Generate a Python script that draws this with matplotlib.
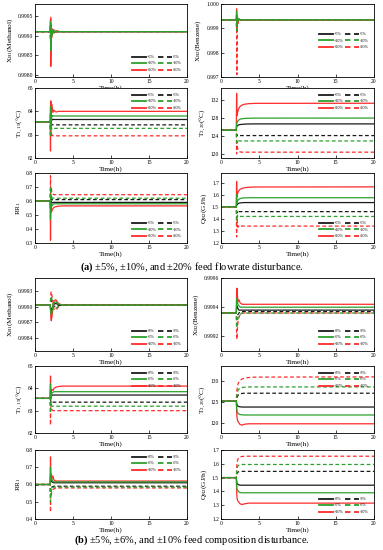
import matplotlib
matplotlib.use("Agg")
from matplotlib import pyplot as plt

plt.rcParams['font.family'] = ['Liberation Serif', 'DejaVu Serif']
plt.rcParams['mathtext.fontset'] = 'custom'
plt.rcParams['mathtext.rm'] = 'Liberation Serif'
plt.rcParams['mathtext.it'] = 'Liberation Serif:italic'
plt.rcParams['mathtext.bf'] = 'Liberation Serif:bold'

# time grid (h) shared by every series
T = [0, 2.0, 2.04, 2.08, 2.14, 2.22, 2.35, 2.5, 2.75, 3.1, 3.6, 4.5, 20]

LABELS_A = ["+5%", "-5%", "+10%", "-10%", "+20%", "-20%"]
LABELS_B = ["+3%", "-3%", "+6%", "-6%", "+10%", "-10%"]

# ---- (a) feed flowrate disturbance ----
A_XB1 = [
    [0.9991, 0.9991, 0.99925, 0.99895, 0.99915, 0.99905, 0.99912, 0.99909, 0.9991, 0.9991, 0.9991, 0.9991, 0.9991],
    [0.9991, 0.9991, 0.99898, 0.9992, 0.99905, 0.99913, 0.99908, 0.99911, 0.9991, 0.9991, 0.9991, 0.9991, 0.9991],
    [0.9991, 0.9991, 0.99935, 0.99862, 0.9992, 0.99898, 0.99913, 0.99907, 0.99911, 0.9991, 0.9991, 0.9991, 0.9991],
    [0.9991, 0.9991, 0.9989, 0.9993, 0.999, 0.99915, 0.99906, 0.99912, 0.9991, 0.9991, 0.9991, 0.9991, 0.9991],
    [0.9991, 0.9991, 0.9994, 0.99822, 0.99925, 0.99895, 0.99915, 0.99906, 0.99912, 0.9991, 0.9991, 0.9991, 0.9991],
    [0.9991, 0.9991, 0.99885, 0.99948, 0.99895, 0.9992, 0.99905, 0.99915, 0.99908, 0.99912, 0.99909, 0.9991, 0.9991],
]
A_XB2 = [
    [0.99935, 0.99935, 0.99955, 0.9992, 0.9994, 0.99933, 0.99936, 0.99935, 0.99935, 0.99935, 0.99935, 0.99935, 0.99935],
    [0.99935, 0.99935, 0.9991, 0.99945, 0.9993, 0.99937, 0.99934, 0.99935, 0.99935, 0.99935, 0.99935, 0.99935, 0.99935],
    [0.99935, 0.99935, 0.9997, 0.9991, 0.99945, 0.9993, 0.99937, 0.99935, 0.99935, 0.99935, 0.99935, 0.99935, 0.99935],
    [0.99935, 0.99935, 0.9989, 0.99955, 0.99925, 0.9994, 0.99933, 0.99935, 0.99935, 0.99935, 0.99935, 0.99935, 0.99935],
    [0.99935, 0.99935, 0.9998, 0.999, 0.9995, 0.99928, 0.99938, 0.99934, 0.99935, 0.99935, 0.99935, 0.99935, 0.99935],
    [0.99935, 0.99935, 0.999, 0.9971, 0.9993, 0.9992, 0.9994, 0.99936, 0.99935, 0.99935, 0.99935, 0.99935, 0.99935],
]
A_T115 = [
    [63.55, 63.55, 63.9, 63.4, 63.7, 63.62, 63.66, 63.65, 63.65, 63.65, 63.65, 63.65, 63.65],
    [63.55, 63.55, 63.2, 63.6, 63.38, 63.44, 63.42, 63.42, 63.42, 63.42, 63.42, 63.42, 63.42],
    [63.55, 63.55, 64.2, 63.2, 63.9, 63.75, 63.82, 63.8, 63.8, 63.8, 63.8, 63.8, 63.8],
    [63.55, 63.55, 62.9, 63.5, 63.2, 63.3, 63.27, 63.27, 63.27, 63.27, 63.27, 63.27, 63.27],
    [63.55, 63.55, 62.3, 64.45, 63.9, 64.3, 63.95, 64.05, 63.97, 64.0, 64.0, 64.0, 64.0],
    [63.55, 63.55, 63.0, 63.4, 62.9, 63.0, 62.95, 62.95, 62.95, 62.95, 62.95, 62.95, 62.95],
]
A_T220 = [
    [125.3, 125.3, 126.0, 126.2, 126.3, 126.4, 126.5, 126.55, 126.6, 126.65, 126.68, 126.7, 126.7],
    [125.3, 125.3, 124.4, 124.0, 124.2, 124.1, 124.1, 124.1, 124.1, 124.1, 124.1, 124.1, 124.1],
    [125.3, 125.3, 126.5, 126.9, 127.2, 127.4, 127.6, 127.75, 127.85, 127.92, 127.96, 127.99, 128.0],
    [125.3, 125.3, 123.5, 122.5, 123.0, 122.85, 122.92, 122.9, 122.9, 122.9, 122.9, 122.9, 122.9],
    [125.3, 125.3, 133.5, 128.5, 129.0, 129.6, 130.2, 130.6, 130.9, 131.1, 131.2, 131.28, 131.3],
    [125.3, 125.3, 120.0, 122.8, 121.6, 121.0, 120.6, 120.45, 120.4, 120.4, 120.4, 120.4, 120.4],
]
A_RR1 = [
    [0.6, 0.6, 0.55, 0.6, 0.575, 0.585, 0.59, 0.59, 0.59, 0.59, 0.59, 0.59, 0.59],
    [0.6, 0.6, 0.65, 0.6, 0.62, 0.608, 0.61, 0.61, 0.61, 0.61, 0.61, 0.61, 0.61],
    [0.6, 0.6, 0.47, 0.59, 0.55, 0.565, 0.575, 0.58, 0.58, 0.58, 0.58, 0.58, 0.58],
    [0.6, 0.6, 0.7, 0.6, 0.64, 0.625, 0.62, 0.62, 0.62, 0.62, 0.62, 0.62, 0.62],
    [0.6, 0.6, 0.32, 0.58, 0.52, 0.53, 0.545, 0.555, 0.56, 0.563, 0.565, 0.565, 0.565],
    [0.6, 0.6, 0.78, 0.62, 0.7, 0.66, 0.65, 0.645, 0.645, 0.645, 0.645, 0.645, 0.645],
]
A_QR2 = [
    [1.5, 1.5, 1.52, 1.515, 1.52, 1.525, 1.53, 1.532, 1.534, 1.535, 1.535, 1.535, 1.535],
    [1.5, 1.5, 1.47, 1.45, 1.465, 1.458, 1.46, 1.46, 1.46, 1.46, 1.46, 1.46, 1.46],
    [1.5, 1.5, 1.6, 1.53, 1.545, 1.555, 1.563, 1.568, 1.572, 1.574, 1.575, 1.575, 1.575],
    [1.5, 1.5, 1.42, 1.39, 1.43, 1.415, 1.42, 1.42, 1.42, 1.42, 1.42, 1.42, 1.42],
    [1.5, 1.5, 1.71, 1.58, 1.6, 1.62, 1.635, 1.645, 1.653, 1.658, 1.662, 1.664, 1.665],
    [1.5, 1.5, 1.25, 1.42, 1.36, 1.33, 1.345, 1.34, 1.34, 1.34, 1.34, 1.34, 1.34],
]

# ---- (b) feed composition disturbance ----
B_XB1 = [
    [0.99903, 0.99903, 0.99898, 0.99895, 0.99893, 0.99896, 0.99901, 0.99905, 0.99906, 0.99904, 0.99903, 0.99903, 0.99903],
    [0.99903, 0.99903, 0.99908, 0.99911, 0.99913, 0.9991, 0.99905, 0.99901, 0.999, 0.99902, 0.99903, 0.99903, 0.99903],
    [0.99903, 0.99903, 0.99895, 0.99888, 0.99885, 0.9989, 0.999, 0.99908, 0.99909, 0.99905, 0.99903, 0.99903, 0.99903],
    [0.99903, 0.99903, 0.9991, 0.99918, 0.9992, 0.99915, 0.99906, 0.99898, 0.99897, 0.99901, 0.99903, 0.99903, 0.99903],
    [0.99903, 0.99903, 0.99895, 0.9988, 0.99873, 0.9988, 0.99895, 0.99912, 0.99913, 0.99906, 0.99903, 0.99903, 0.99903],
    [0.99903, 0.99903, 0.99912, 0.99925, 0.99929, 0.99922, 0.9991, 0.99895, 0.99893, 0.999, 0.99903, 0.99903, 0.99903],
]
B_XB2 = [
    [0.99936, 0.99936, 0.9994, 0.99941, 0.9994, 0.99939, 0.99938, 0.99938, 0.99938, 0.99938, 0.99938, 0.99938, 0.99938],
    [0.99936, 0.99936, 0.99933, 0.99932, 0.99934, 0.99935, 0.99936, 0.99937, 0.99937, 0.99937, 0.99937, 0.99937, 0.99937],
    [0.99936, 0.99936, 0.99944, 0.99946, 0.99944, 0.99942, 0.99941, 0.9994, 0.9994, 0.9994, 0.9994, 0.9994, 0.9994],
    [0.99936, 0.99936, 0.99928, 0.99926, 0.9993, 0.99933, 0.99934, 0.99935, 0.99936, 0.99936, 0.99936, 0.99936, 0.99936],
    [0.99936, 0.99936, 0.9995, 0.99953, 0.99948, 0.99944, 0.99945, 0.99943, 0.99942, 0.99942, 0.99942, 0.99942, 0.99942],
    [0.99936, 0.99936, 0.99922, 0.99918, 0.99925, 0.9993, 0.99933, 0.99935, 0.99936, 0.99936, 0.99936, 0.99936, 0.99936],
]
B_T115 = [
    [63.55, 63.55, 63.9, 63.6, 63.65, 63.68, 63.7, 63.7, 63.7, 63.7, 63.7, 63.7, 63.7],
    [63.55, 63.55, 63.2, 63.45, 63.4, 63.38, 63.38, 63.38, 63.38, 63.38, 63.38, 63.38, 63.38],
    [63.55, 63.55, 64.2, 63.5, 63.7, 63.78, 63.82, 63.85, 63.85, 63.85, 63.85, 63.85, 63.85],
    [63.55, 63.55, 62.9, 63.4, 63.25, 63.2, 63.2, 63.2, 63.2, 63.2, 63.2, 63.2, 63.2],
    [63.55, 63.55, 64.55, 63.6, 63.9, 63.95, 63.9, 64.0, 64.05, 64.08, 64.1, 64.1, 64.1],
    [63.55, 63.55, 62.35, 63.3, 63.1, 63.05, 63.0, 63.0, 63.0, 63.0, 63.0, 63.0, 63.0],
]
B_T220 = [
    [125.2, 125.2, 124.8, 124.4, 124.2, 124.0, 123.9, 123.85, 123.8, 123.8, 123.8, 123.8, 123.8],
    [125.2, 125.2, 125.7, 126.0, 126.3, 126.6, 126.8, 126.95, 127.05, 127.1, 127.1, 127.1, 127.1],
    [125.2, 125.2, 124.0, 123.0, 122.6, 122.3, 122.1, 122.0, 121.95, 121.9, 121.9, 121.9, 121.9],
    [125.2, 125.2, 126.2, 126.8, 127.3, 127.8, 128.1, 128.3, 128.45, 128.55, 128.6, 128.6, 128.6],
    [125.2, 125.2, 123.0, 121.5, 120.8, 120.3, 120.0, 119.6, 119.5, 119.7, 119.8, 119.8, 119.8],
    [125.2, 125.2, 126.8, 127.8, 128.6, 129.3, 129.8, 130.2, 130.5, 130.7, 130.85, 130.95, 131.0],
]
B_RR1 = [
    [0.6, 0.6, 0.65, 0.62, 0.63, 0.615, 0.612, 0.61, 0.61, 0.61, 0.61, 0.61, 0.61],
    [0.6, 0.6, 0.55, 0.58, 0.575, 0.585, 0.588, 0.59, 0.59, 0.59, 0.59, 0.59, 0.59],
    [0.6, 0.6, 0.7, 0.63, 0.65, 0.625, 0.618, 0.615, 0.615, 0.615, 0.615, 0.615, 0.615],
    [0.6, 0.6, 0.5, 0.57, 0.56, 0.575, 0.582, 0.585, 0.585, 0.585, 0.585, 0.585, 0.585],
    [0.6, 0.6, 0.76, 0.64, 0.66, 0.63, 0.65, 0.625, 0.62, 0.62, 0.62, 0.62, 0.62],
    [0.6, 0.6, 0.44, 0.55, 0.54, 0.56, 0.57, 0.575, 0.58, 0.58, 0.58, 0.58, 0.58],
]
B_QR2 = [
    [1.5, 1.5, 1.48, 1.46, 1.455, 1.45, 1.447, 1.445, 1.445, 1.445, 1.445, 1.445, 1.445],
    [1.5, 1.5, 1.52, 1.53, 1.535, 1.54, 1.543, 1.545, 1.545, 1.545, 1.545, 1.545, 1.545],
    [1.5, 1.5, 1.45, 1.42, 1.41, 1.405, 1.395, 1.392, 1.39, 1.39, 1.39, 1.39, 1.39],
    [1.5, 1.5, 1.53, 1.56, 1.575, 1.585, 1.59, 1.593, 1.595, 1.595, 1.595, 1.595, 1.595],
    [1.5, 1.5, 1.42, 1.36, 1.34, 1.33, 1.32, 1.31, 1.305, 1.31, 1.315, 1.315, 1.315],
    [1.5, 1.5, 1.55, 1.6, 1.62, 1.635, 1.645, 1.65, 1.653, 1.655, 1.655, 1.655, 1.655],
]

COLORS = ['#1a1a1a', '#1a1a1a', '#2ca02c', '#2ca02c', '#ff2a2a', '#ff2a2a']
STYLES = ['-', '--', '-', '--', '-', '--']
DRAW_ORDER = [0, 1, 4, 5, 2, 3]   # green ends up on top like the original

YLAB = {
    'xb1': r'X$_{\mathrm{B1}}$(Methanol)',
    'xb2': r'X$_{\mathrm{B2}}$(Benzene)',
    't115': r'T$_{\mathrm{1,\,15}}$(°C)',
    't220': r'T$_{\mathrm{2,20}}$(°C)',
    'rr1': r'RR$_{\mathrm{1}}$',
    'qr2': r'Q$_{\mathrm{R2}}$(GJ/h)',
}

# (data, ylabel key, ylim, yticks, legend loc, tick format)
panels_a = [
    (A_XB1, 'xb1', (0.99795, 0.9998), [0.998, 0.9985, 0.999, 0.9995], 'lower right', '%.4f'),
    (A_XB2, 'xb2', (0.997, 1.0), [0.997, 0.998, 0.999, 1.0], 'center right', '%.3f'),
    (A_T115, 't115', (62, 65), [62, 63, 64, 65], 'upper right', '%d'),
    (A_T220, 't220', (119.1, 134.7), [120, 124, 128, 132], 'upper right', '%d'),
    (A_RR1, 'rr1', (0.3, 0.8), [0.3, 0.4, 0.5, 0.6, 0.7, 0.8], 'lower right', '%.1f'),
    (A_QR2, 'qr2', (1.2, 1.78), [1.2, 1.3, 1.4, 1.5, 1.6, 1.7], 'lower right', '%.1f'),
]
panels_b = [
    (B_XB1, 'xb1', (0.99815, 0.99955), [0.9984, 0.9987, 0.999, 0.9993], 'lower right', '%.4f'),
    (B_XB2, 'xb2', (0.9991, 0.9996), [0.9992, 0.9994, 0.9996], 'lower right', '%.4f'),
    (B_T115, 't115', (62, 65), [62, 63, 64, 65], 'upper right', '%d'),
    (B_T220, 't220', (117.6, 133.6), [120, 125, 130], 'upper right', '%d'),
    (B_RR1, 'rr1', (0.4, 0.8), [0.4, 0.5, 0.6, 0.7, 0.8], 'upper right', '%.1f'),
    (B_QR2, 'qr2', (1.2, 1.7), [1.2, 1.3, 1.4, 1.5, 1.6, 1.7], 'lower right', '%.1f'),
]

W, H = 383.0, 550.0
cols_px = [(35, 187), (221, 374)]
rows_a = [(4, 77), (88, 158), (173, 243)]
rows_b = [(278, 351), (366, 433), (450, 519)]


def draw_panel(rect, data, labels, key, ylim, yticks, loc, fmt):
    ax = fig.add_axes(rect)
    lines = {}
    for i in DRAW_ORDER:
        ln, = ax.plot(T, data[i], color=COLORS[i], ls=STYLES[i], lw=0.9,
                      dashes=(3, 2) if STYLES[i] == '--' else (None, None))
        lines[i] = ln
    ax.set_xlim(0, 20)
    ax.set_xticks([0, 5, 10, 15, 20])
    ax.set_ylim(*ylim)
    ax.set_yticks(yticks)
    ax.set_yticklabels([fmt % v for v in yticks])
    ax.tick_params(direction='in', length=2, width=0.5, labelsize=4, pad=1.5)
    for s in ax.spines.values():
        s.set_linewidth(0.6)
    ax.set_xlabel('Time(h)', fontsize=5.2, labelpad=1)
    ax.set_ylabel(YLAB[key], fontsize=5.2, labelpad=2)
    order = [0, 2, 4, 1, 3, 5]
    leg = ax.legend([lines[i] for i in order], [labels[i] for i in order],
                    loc=loc, ncol=2, fontsize=3, frameon=False,
                    handlelength=3.4, columnspacing=0.4, handletextpad=0.2,
                    labelspacing=0.6, borderaxespad=0.8)
    for h in leg.legend_handles:
        h.set_linewidth(1.3)
    return ax


fig = plt.figure(figsize=(W / 100, H / 100), dpi=100)

for rows, panels, labels in [(rows_a, panels_a, LABELS_A), (rows_b, panels_b, LABELS_B)]:
    for k, (data, key, ylim, yticks, loc, fmt) in enumerate(panels):
        top, bot = rows[k // 2]
        left, right = cols_px[k % 2]
        rect = [left / W, 1 - bot / H, (right - left) / W, (bot - top) / H]
        draw_panel(rect, data, labels, key, ylim, yticks, loc, fmt)

fig.text(0.5, 1 - 267 / H, r'$\mathbf{(a)}$ ±5%, ±10%, and ±20% feed flowrate disturbance.',
         ha='center', va='center', fontsize=7.5)
fig.text(0.5, 1 - 540 / H, r'$\mathbf{(b)}$ ±5%, ±6%, and ±10% feed composition disturbance.',
         ha='center', va='center', fontsize=7.5)

fig.savefig('out.png', dpi=100)
